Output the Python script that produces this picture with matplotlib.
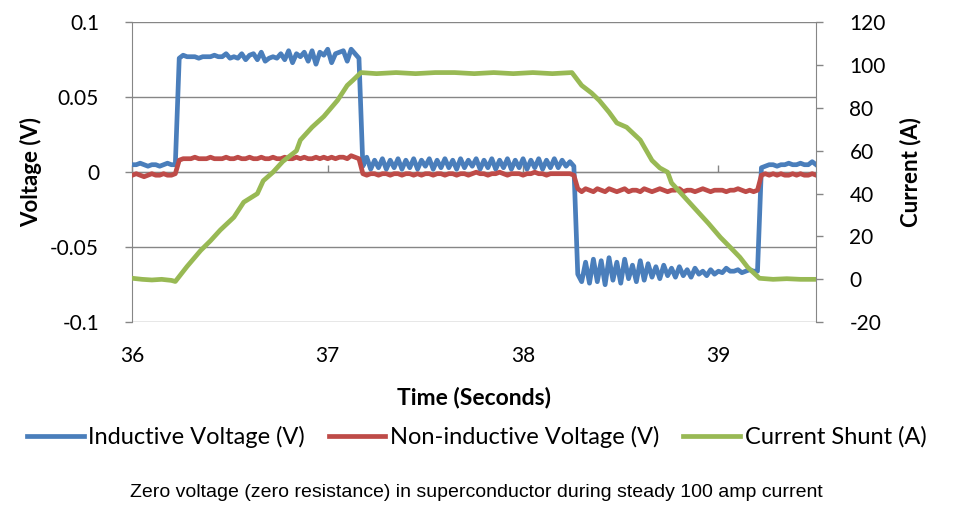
import numpy as np
import matplotlib
matplotlib.use("Agg")
import matplotlib.pyplot as plt

# sample times for the two voltage traces (every 0.02 s)
t_volt = np.round(np.arange(36.0, 39.5001, 0.02), 2)

# Inductive voltage (V), 10 samples per row = 0.2 s
inductive_v = [
    0.005, 0.005, 0.006, 0.005, 0.004, 0.005, 0.005, 0.004, 0.005, 0.006,
    0.005, 0.005, 0.076, 0.078, 0.077, 0.077, 0.077, 0.076, 0.077, 0.077,
    0.077, 0.078, 0.077, 0.077, 0.079, 0.076, 0.077, 0.076, 0.079, 0.075,
    0.078, 0.079, 0.075, 0.080, 0.074, 0.076, 0.077, 0.076, 0.079, 0.075,
    0.081, 0.073, 0.079, 0.077, 0.080, 0.074, 0.081, 0.072, 0.080, 0.078,
    0.082, 0.073, 0.079, 0.080, 0.081, 0.074, 0.082, 0.079, 0.076, 0.004,
    0.010, 0.002, 0.008, 0.003, 0.009, 0.002, 0.008, 0.003, 0.009, 0.002,
    0.008, 0.003, 0.009, 0.002, 0.008, 0.004, 0.009, 0.002, 0.008, 0.003,
    0.009, 0.003, 0.008, 0.002, 0.009, 0.003, 0.008, 0.004, 0.009, 0.002,
    0.008, 0.003, 0.009, 0.002, 0.008, 0.003, 0.009, 0.002, 0.008, 0.003,
    0.009, 0.002, 0.008, 0.003, 0.009, 0.002, 0.008, 0.003, 0.009, 0.003,
    0.008, 0.004, 0.007, 0.004, -0.068, -0.073, -0.060, -0.074, -0.058, -0.073,
    -0.059, -0.075, -0.057, -0.072, -0.060, -0.074, -0.058, -0.071, -0.062, -0.073,
    -0.059, -0.072, -0.061, -0.070, -0.063, -0.071, -0.062, -0.069, -0.064, -0.070,
    -0.063, -0.069, -0.065, -0.070, -0.064, -0.068, -0.066, -0.069, -0.065, -0.068,
    -0.066, -0.067, -0.064, -0.066, -0.066, -0.065, -0.067, -0.066, -0.065, -0.066,
    -0.066, 0.003, 0.004, 0.005, 0.005, 0.004, 0.005, 0.005, 0.006, 0.005,
    0.005, 0.006, 0.005, 0.005, 0.007, 0.005,
]

# Non-inductive voltage (V)
noninductive_v = [
    -0.002, -0.001, -0.002, -0.003, -0.002, -0.001, -0.002, -0.002, -0.001, -0.002,
    -0.002, -0.001, 0.008, 0.009, 0.009, 0.009, 0.010, 0.009, 0.009, 0.009,
    0.010, 0.009, 0.009, 0.009, 0.010, 0.009, 0.009, 0.010, 0.009, 0.009,
    0.010, 0.009, 0.009, 0.010, 0.009, 0.009, 0.010, 0.009, 0.009, 0.010,
    0.009, 0.009, 0.010, 0.009, 0.010, 0.009, 0.009, 0.010, 0.009, 0.010,
    0.009, 0.010, 0.009, 0.010, 0.010, 0.009, 0.011, 0.010, 0.009, -0.001,
    -0.002, -0.001, -0.001, -0.002, -0.001, -0.001, -0.002, -0.001, -0.001, -0.002,
    -0.001, -0.001, -0.002, -0.001, -0.002, -0.001, -0.001, -0.002, -0.001, -0.001,
    -0.002, -0.001, -0.001, -0.002, -0.001, -0.001, -0.002, -0.001, 0.000, -0.001,
    -0.001, -0.002, -0.001, -0.001, 0.000, -0.001, -0.002, -0.001, -0.001, -0.001,
    -0.002, -0.001, -0.001, 0.000, -0.001, -0.001, -0.002, -0.001, -0.001, -0.001,
    -0.001, -0.001, -0.001, -0.002, -0.011, -0.013, -0.011, -0.012, -0.013, -0.011,
    -0.012, -0.013, -0.011, -0.012, -0.013, -0.012, -0.011, -0.013, -0.012, -0.012,
    -0.013, -0.011, -0.012, -0.013, -0.012, -0.011, -0.012, -0.013, -0.012, -0.012,
    -0.011, -0.013, -0.012, -0.012, -0.013, -0.012, -0.011, -0.012, -0.013, -0.012,
    -0.012, -0.012, -0.013, -0.012, -0.012, -0.011, -0.012, -0.013, -0.012, -0.013,
    -0.012, -0.002, -0.001, -0.002, -0.001, -0.002, -0.001, -0.002, -0.002, -0.001,
    -0.002, -0.001, -0.002, -0.002, -0.001, -0.002,
]

# Current shunt (A), read at irregular times
t_current = [36.00, 36.05, 36.10, 36.15, 36.20, 36.22, 36.28, 36.35, 36.40, 36.45,
             36.52, 36.57, 36.64, 36.67, 36.72, 36.77, 36.84, 36.86, 36.92, 36.98,
             37.05, 37.10, 37.13, 37.17, 37.25, 37.35, 37.45, 37.55, 37.65, 37.75,
             37.85, 37.95, 38.05, 38.15, 38.25, 38.30, 38.35, 38.39, 38.44, 38.48,
             38.53, 38.60, 38.66, 38.70, 38.74, 38.76, 38.82, 38.89, 38.95, 39.01,
             39.06, 39.11, 39.15, 39.21, 39.28, 39.35, 39.42, 39.50]
current_a = [0.5, 0.0, -0.3, 0.0, -0.5, -1.0, 6.0, 13.5, 18.0, 23.0,
             29.0, 36.0, 40.0, 46.0, 50.0, 55.0, 60.0, 65.0, 71.0, 76.0,
             83.5, 90.5, 93.0, 96.5, 96.0, 96.5, 96.0, 96.5, 96.5, 96.0,
             96.5, 96.0, 96.5, 96.0, 96.5, 90.5, 87.0, 83.5, 78.0, 73.0,
             71.0, 65.0, 55.5, 52.0, 50.0, 45.0, 39.0, 32.0, 26.0, 19.6,
             15.0, 10.3, 5.6, 0.5, 0.0, 0.3, 0.0, 0.0]

v_ticks = [-0.1, -0.05, 0, 0.05, 0.1]
v_labels = ["-0.1", "-0.05", "0", "0.05", "0.1"]
a_ticks = [-20, 0, 20, 40, 60, 80, 100, 120]
a_labels = ["-20", "0", "20", "40", "60", "80", "100", "120"]
t_ticks = [36, 37, 38, 39]

blue, red, green = "#4A7EBB", "#BE4B48", "#98B954"
axis_gray = "#868686"
plt.rcParams["font.family"] = ["Lato", "DejaVu Sans"]

fig = plt.figure(figsize=(9.59, 5.05), dpi=100)
ax = fig.add_axes([0.138, 0.362, 0.713, 0.594])
ax2 = ax.twinx()

l1, = ax.plot(t_volt, inductive_v, color=blue, lw=3.4, solid_joinstyle="round",
              label="Inductive Voltage (V)", zorder=3)
l2, = ax.plot(t_volt, noninductive_v, color=red, lw=3.4, solid_joinstyle="round",
              label="Non-inductive Voltage (V)", zorder=3)
l3, = ax2.plot(t_current, current_a, color=green, lw=3.4, solid_joinstyle="round",
               label="Current Shunt (A)", zorder=3)

ax.set_xlim(36, 39.5)
ax.set_ylim(-0.1, 0.1)
ax2.set_ylim(-20, 120)
ax.set_yticks(v_ticks)
ax.set_yticklabels(v_labels)
ax2.set_yticks(a_ticks)
ax2.set_yticklabels(a_labels)
ax.set_xticks(t_ticks)

ax.grid(axis="y", color=axis_gray, lw=1.0)
ax.set_axisbelow(True)
for a in (ax, ax2):
    for s in a.spines.values():
        s.set_visible(False)
ax.spines["left"].set_visible(True)
ax.spines["left"].set_color(axis_gray)
ax2.spines["right"].set_visible(True)
ax2.spines["right"].set_color(axis_gray)

tick_fs = 15
ax.tick_params(axis="y", length=5, color=axis_gray, width=1, pad=19, labelsize=tick_fs)
ax2.tick_params(axis="y", length=5, color=axis_gray, width=1, pad=19, labelsize=tick_fs)
ax.tick_params(axis="x", length=0, pad=17, labelsize=tick_fs)

# tick marks of the category axis sit on the zero line
zero_axis = ax.secondary_xaxis(0.5)
zero_axis.set_xticks(t_ticks)
zero_axis.set_xticklabels([])
zero_axis.tick_params(axis="x", length=5, color=axis_gray, width=1)
zero_axis.spines["bottom"].set_visible(False)

lab_fs = 16
ax.set_ylabel("Voltage (V)", fontsize=lab_fs, fontweight="bold", labelpad=6)
ax2.set_ylabel("Current (A)", fontsize=lab_fs, fontweight="bold", labelpad=10)
ax.set_xlabel("Time (Seconds)", fontsize=16.5, fontweight="bold", labelpad=15)

fig.legend(handles=[l1, l2, l3], loc="center", bbox_to_anchor=(0.497, 0.135),
           ncol=3, frameon=False, fontsize=17, handlelength=2.4,
           handletextpad=0.2, columnspacing=1.0)

fig.text(0.497, 0.024,
         "Zero voltage (zero resistance) in superconductor during steady 100 amp current",
         ha="center", va="center", fontsize=14, family="Liberation Sans")

fig.savefig("out.png", dpi=100)
